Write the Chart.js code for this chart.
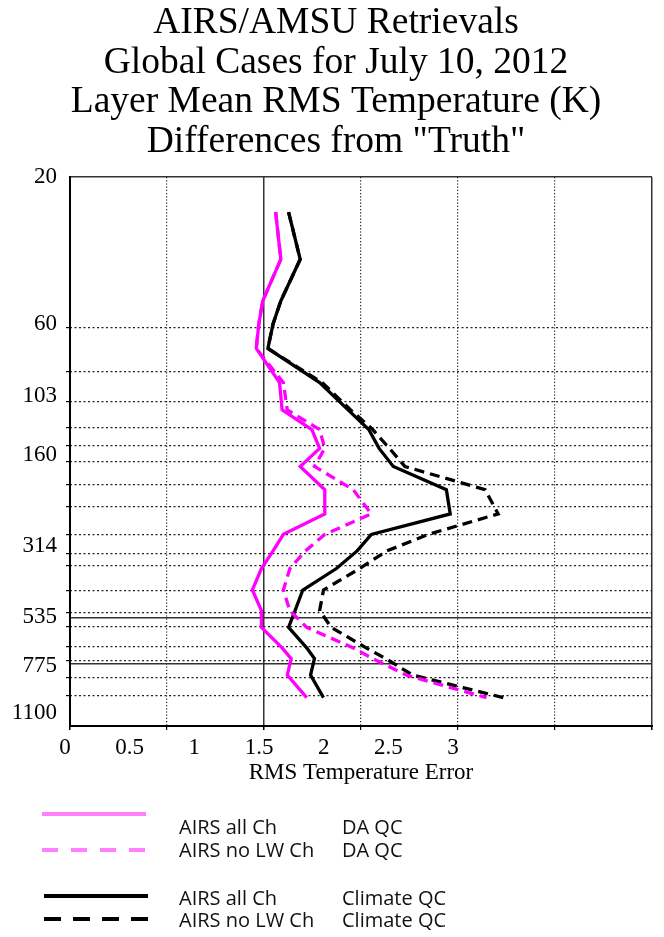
<!DOCTYPE html>
<html>
<head>
<meta charset="utf-8">
<script src="https://cdn.jsdelivr.net/npm/chart.js@4.4.1/dist/chart.umd.min.js"></script>
<style>
  html, body { margin: 0; padding: 0; background: #fff; }
  #wrap { position: relative; width: 664px; height: 937px; }
  #chart { position: absolute; left: 0; top: 0; }
  #key { position: absolute; left: 0; top: 0; }
  .key-text {
    position: absolute;
    font: 20px/22px "Open Sans", "Noto Sans", sans-serif;
    color: #111;
    white-space: nowrap;
  }
</style>
</head>
<body>
<div id="wrap">
  <canvas id="chart" width="664" height="937"></canvas>
  <svg id="key" width="664" height="937"></svg>
</div>
<script>
// pressure (hPa) of the plotted points, top of the profile first
var levels = [26, 37, 50.5, 60, 72, 93, 114, 132, 152, 174, 207, 248, 289, 327, 373, 438, 511, 579, 675, 731, 827, 979];

// layer mean RMS temperature error (K)
var daAllCh   = [1.59, 1.63, 1.49, 1.46, 1.44, 1.62, 1.64, 1.87, 1.93, 1.78, 1.97, 1.97, 1.65, 1.57, 1.48, 1.41, 1.48, 1.48, 1.64, 1.71, 1.68, 1.83];
var daNoLW    = [1.59, 1.63, 1.49, 1.46, 1.44, 1.65, 1.68, 1.93, 1.97, 1.89, 2.19, 2.33, 1.97, 1.82, 1.70, 1.65, 1.70, 1.83, 2.19, 2.34, 2.60, 3.22];
var climAllCh = [1.69, 1.78, 1.63, 1.57, 1.53, 1.93, 2.15, 2.31, 2.39, 2.50, 2.91, 2.94, 2.33, 2.22, 2.06, 1.80, 1.74, 1.69, 1.83, 1.89, 1.86, 1.96];
var climNoLW  = [1.69, 1.78, 1.63, 1.57, 1.53, 1.95, 2.17, 2.34, 2.47, 2.59, 3.21, 3.31, 2.77, 2.45, 2.24, 1.96, 1.93, 2.02, 2.29, 2.44, 2.65, 3.35];

// axis ticks and grid lines
var pressureLabels = [20, 60, 103, 160, 314, 535, 775, 1100];
var layerEdges = [60, 83, 103, 125, 142, 160, 189, 222, 273, 313, 342, 408, 479, 534, 617, 684, 775, 878];
var heavyLevels = [20, 500, 700, 1100];
var errorLabels = [0, 0.5, 1, 1.5, 2, 2.5, 3];
var errorGrid = [0.75, 2.25, 3, 3.75];
var heavyErrors = [0, 1.5, 4.5];

var seriesNames = ['AIRS all Ch', 'AIRS no LW Ch', 'AIRS all Ch', 'AIRS no LW Ch'];
var qcNames = ['DA QC', 'DA QC', 'Climate QC', 'Climate QC'];

var serif = '"Liberation Serif", "Times New Roman", serif';

function fixedTicks(values) {
    return function (scale) {
        scale.ticks = values.map(function (v) { return {value: v}; });
    };
}

function profile(name, values, color, dash) {
    return {
        label: name,
        data: levels.map(function (p, i) { return {x: values[i], y: p}; }),
        showLine: true,
        borderColor: color,
        borderWidth: 3.3,
        borderDash: dash,
        pointRadius: 0,
        fill: false,
    };
}

new Chart(document.getElementById('chart'), {
    type: 'scatter',
    data: {
        datasets: [
            profile(seriesNames[0] + ' ' + qcNames[0], daAllCh, '#ff00ff', []),
            profile(seriesNames[1] + ' ' + qcNames[1], daNoLW, '#ff00ff', [10, 6]),
            profile(seriesNames[2] + ' ' + qcNames[2], climAllCh, '#000000', []),
            profile(seriesNames[3] + ' ' + qcNames[3], climNoLW, '#000000', [10, 6]),
        ],
    },
    options: {
        responsive: false,
        animation: false,
        layout: {padding: {left: 8, right: 0, top: 0, bottom: 147}},
        plugins: {
            legend: {display: false},
            tooltip: {enabled: false},
            title: {
                display: true,
                text: ['AIRS/AMSU Retrievals', 'Global Cases for July 10, 2012',
                       'Layer Mean RMS Temperature (K)', 'Differences from "Truth"'],
                color: '#000',
                font: {family: serif, size: 37.5, weight: 'normal', lineHeight: '39.5px'},
                padding: {top: 3.5, bottom: 15.5},
            },
        },
        scales: {
            x: {
                type: 'linear', position: 'bottom', min: 0, max: 4.5, weight: 1,
                afterBuildTicks: fixedTicks(errorLabels),
                afterFit: function (s) { s.height = 64; },
                grid: {display: false, drawTicks: false},
                border: {display: true, color: '#000', width: 2},
                ticks: {
                    color: '#000', font: {family: serif, size: 23}, padding: 8,
                    labelOffset: -5, maxRotation: 0, autoSkip: false,
                    callback: function (v) { return String(v); },
                },
                title: {
                    display: true, text: 'RMS Temperature Error', color: '#000',
                    font: {family: serif, size: 23}, padding: {top: 0, bottom: 3},
                },
            },
            xGrid: {
                type: 'linear', position: 'bottom', min: 0, max: 4.5, weight: 0,
                afterBuildTicks: fixedTicks(errorGrid),
                afterFit: function (s) { s.height = 0; },
                ticks: {display: false},
                grid: {color: '#222', lineWidth: 1.2, tickLength: 4, tickColor: '#000'},
                border: {display: false, dash: [1.2, 2]},
            },
            xSolid: {
                type: 'linear', position: 'bottom', min: 0, max: 4.5, weight: 0,
                afterBuildTicks: fixedTicks(heavyErrors),
                afterFit: function (s) { s.height = 0; },
                ticks: {display: false},
                grid: {color: '#333', lineWidth: 1.5, tickLength: 4, tickColor: '#000'},
                border: {display: false},
            },
            yLabel: {
                type: 'logarithmic', position: 'left', reverse: true, min: 20, max: 1210, weight: 1,
                afterBuildTicks: fixedTicks(pressureLabels),
                afterFit: function (s) { s.width = 62; },
                grid: {display: false, drawTicks: false},
                border: {display: true, color: '#000', width: 2},
                ticks: {
                    color: '#000', font: {family: serif, size: 23}, padding: 13, autoSkip: false,
                    callback: function (v) { return String(v); },
                },
            },
            y: {
                type: 'logarithmic', position: 'left', reverse: true, min: 20, max: 1100, weight: 0,
                afterBuildTicks: fixedTicks(layerEdges),
                afterFit: function (s) { s.width = 0; },
                ticks: {display: false},
                grid: {color: '#222', lineWidth: 1.2, tickLength: 4, tickColor: '#000'},
                border: {display: false, dash: [2, 2.5]},
            },
            ySolid: {
                type: 'logarithmic', position: 'right', reverse: true, min: 20, max: 1100,
                afterBuildTicks: fixedTicks(heavyLevels),
                afterFit: function (s) { s.width = 12; },
                ticks: {display: false},
                grid: {color: '#333', lineWidth: 1.5, drawTicks: false},
                border: {display: false},
            },
        },
    },
});

// legend drawn under the chart, one row per profile
var keyColors = ['#ff7fff', '#ff7fff', '#000000', '#000000'];
var keyDashes = ['', '16 13', '', '17 12'];
var keyLineY = [814, 850, 896, 919];
var keyTextY = [835, 858, 906, 928];

var svg = document.getElementById('key');
var wrap = document.getElementById('wrap');
keyLineY.forEach(function (y, i) {
    var line = document.createElementNS('http://www.w3.org/2000/svg', 'line');
    line.setAttribute('x1', i < 2 ? 42 : 44);
    line.setAttribute('x2', i < 2 ? 146 : 148);
    line.setAttribute('y1', y);
    line.setAttribute('y2', y);
    line.setAttribute('stroke', keyColors[i]);
    line.setAttribute('stroke-width', 4);
    if (keyDashes[i]) line.setAttribute('stroke-dasharray', keyDashes[i]);
    svg.appendChild(line);

    var name = document.createElement('div');
    name.className = 'key-text';
    name.style.left = '179px';
    name.style.top = (keyTextY[i] - 18.8) + 'px';
    name.textContent = seriesNames[i];
    wrap.appendChild(name);

    var qc = document.createElement('div');
    qc.className = 'key-text';
    qc.style.left = '342px';
    qc.style.top = (keyTextY[i] - 18.8) + 'px';
    qc.textContent = qcNames[i];
    wrap.appendChild(qc);
});
</script>
</body>
</html>
